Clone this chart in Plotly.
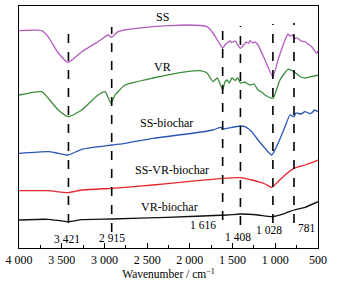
import plotly.graph_objects as go

# Wavenumber (cm-1) and transmittance (arbitrary units, offset curves)
ss_x = [4000, 3734, 3660, 3540, 3423, 3266, 3075, 2958, 2915, 2841, 2431, 2033, 1799, 1729, 1670, 1616, 1590, 1565, 1530, 1507, 1470, 1440, 1408, 1370, 1340, 1310, 1296, 1260, 1240, 1202, 1120, 1028, 968, 886, 851, 828, 800, 781, 740, 700, 652, 610, 574, 515, 500]
ss_y = [217.3, 217.3, 211.3, 195, 185.7, 196.3, 206.3, 213, 210.7, 216.3, 221.3, 223, 221.3, 215, 207, 199.7, 203, 205, 207, 205.5, 207, 203, 199.7, 203, 206, 204.5, 207.3, 205, 206, 203, 188, 171.3, 188, 208, 214, 212, 213, 209.7, 210, 207, 206.3, 203.5, 201.3, 194.7, 197]

vr_x = [4000, 3734, 3660, 3540, 3423, 3266, 3075, 2993, 2923, 2876, 2841, 2759, 2431, 2033, 1881, 1799, 1729, 1680, 1640, 1616, 1590, 1565, 1540, 1507, 1470, 1440, 1408, 1360, 1296, 1250, 1202, 1160, 1120, 1028, 945, 851, 781, 700, 652, 574, 500]
vr_y = [153, 156.3, 150, 138, 131.3, 138, 153, 156.3, 144.7, 153, 156.3, 163, 170, 176.3, 177.3, 175, 166.3, 170, 163, 158, 166, 168, 165, 170, 167.5, 170, 165, 166, 163, 164, 158, 156, 153, 149.7, 168, 178.7, 176.3, 171, 170, 171.3, 173]

ssb_x = [4000, 3660, 3540, 3423, 3266, 2911, 2759, 2431, 2033, 1729, 1640, 1616, 1565, 1408, 1354, 1276, 1202, 1120, 1042, 968, 886, 828, 781, 760, 700, 652, 600, 574, 540, 500]
ssb_y = [94.7, 96.3, 94.7, 93, 98.7, 103, 104.7, 109.7, 114, 118, 120.7, 119, 119.7, 122, 121.3, 116.3, 108, 99.7, 93, 104.7, 121.3, 133, 131.3, 135, 134, 136.3, 134.5, 135, 138, 136.3]

ssvr_x = [4000, 3660, 3423, 3266, 2911, 2759, 2431, 2033, 1616, 1408, 1354, 1276, 1202, 1120, 1042, 968, 886, 781, 652, 574, 500]
ssvr_y = [57.3, 57.3, 55.3, 58, 59.7, 60.7, 63, 66.3, 69.7, 70.3, 69.7, 68, 66.3, 64, 60.7, 66.3, 73, 79.7, 83, 85.3, 88]

vrb_x = [4000, 3660, 3423, 3266, 2911, 2271, 1565, 1408, 1202, 1042, 886, 781, 652, 500]
vrb_y = [28, 28.7, 26.3, 28.3, 29, 30.7, 33, 34, 33, 31.3, 34.7, 38, 40.7, 46.3]

series_names = ["SS", "VR", "SS-biochar", "SS-VR-biochar", "VR-biochar"]
series_colors = ["#b45cc0", "#3a8c3a", "#2a56b8", "#e8262a", "#111111"]
series_data = [(ss_x, ss_y), (vr_x, vr_y), (ssb_x, ssb_y), (ssvr_x, ssvr_y), (vrb_x, vrb_y)]

# label positions (wavenumber, y)
label_pos = [(2326, 230.7), (2317, 181.3), (2279, 124.7), (2212, 78), (2244, 41.3)]

# characteristic peaks
peak_wn = [3421, 2915, 1616, 1408, 1028, 781]
peak_labels = ["3 421", "2 915", "1 616", "1 408", "1 028", "781"]
peak_line_top = [221, 221, 226, 222, 224, 225]
peak_line_bottom = [25, 16, 28, 23, 25, 25]
peak_label_x = [3442, 2915, 1846, 1436, 1073, 632]
peak_label_y = [9, 10, 23, 11, 18, 20]

tick_vals = [4000, 3500, 3000, 2500, 2000, 1500, 1000, 500]
tick_text = ["4 000", "3 500", "3 000", "2 500", "2 000", "1 500", "1 000", "500"]

font_family = "Liberation Serif, Times New Roman, serif"

fig = go.Figure()
for (xs, ys), name, col in zip(series_data, series_names, series_colors):
    fig.add_trace(go.Scatter(x=xs, y=ys, mode="lines", name=name,
                             line=dict(color=col, width=1.3, shape="spline", smoothing=0.5),
                             showlegend=False, hoverinfo="skip"))

for (lx, ly), name in zip(label_pos, series_names):
    fig.add_annotation(x=lx, y=ly, text=name, showarrow=False,
                       font=dict(family=font_family, size=12, color="black"),
                       xanchor="center", yanchor="middle")

for wn, top, bot in zip(peak_wn, peak_line_top, peak_line_bottom):
    fig.add_shape(type="line", x0=wn, x1=wn, y0=bot, y1=top, xref="x", yref="y",
                  line=dict(color="black", width=1.6, dash="dash"))

for lx, ly, txt in zip(peak_label_x, peak_label_y, peak_labels):
    fig.add_annotation(x=lx, y=ly, text=txt, showarrow=False,
                       font=dict(family=font_family, size=11.5, color="black"),
                       xanchor="center", yanchor="middle")

fig.update_layout(
    width=340, height=284,
    margin=dict(l=19, r=22, t=6, b=36, autoexpand=False),
    paper_bgcolor="white", plot_bgcolor="white",
    font=dict(family=font_family, size=12, color="black"),
    xaxis=dict(range=[4000, 500], tickvals=tick_vals, ticktext=tick_text,
               ticks="inside", ticklen=5, tickwidth=1.2, tickcolor="black",
               minor=dict(dtick=250, tick0=500, ticks="inside", ticklen=3, tickcolor="black"),
               showgrid=False, zeroline=False, showline=True, linecolor="black",
               linewidth=1.3, mirror=True, automargin=False,
               title=dict(text="Wavenumber / cm<sup>−1</sup>", standoff=2,
                          font=dict(family=font_family, size=11.5)),
               tickfont=dict(family=font_family, size=12)),
    yaxis=dict(range=[0, 242], showticklabels=False, ticks="", showgrid=False,
               zeroline=False, showline=True, linecolor="black", linewidth=1.3, mirror=True,
               automargin=False),
)

fig.write_html("out.html", config={"displayModeBar": False},
               post_script="document.body.style.margin='0';document.body.style.padding='0';")
